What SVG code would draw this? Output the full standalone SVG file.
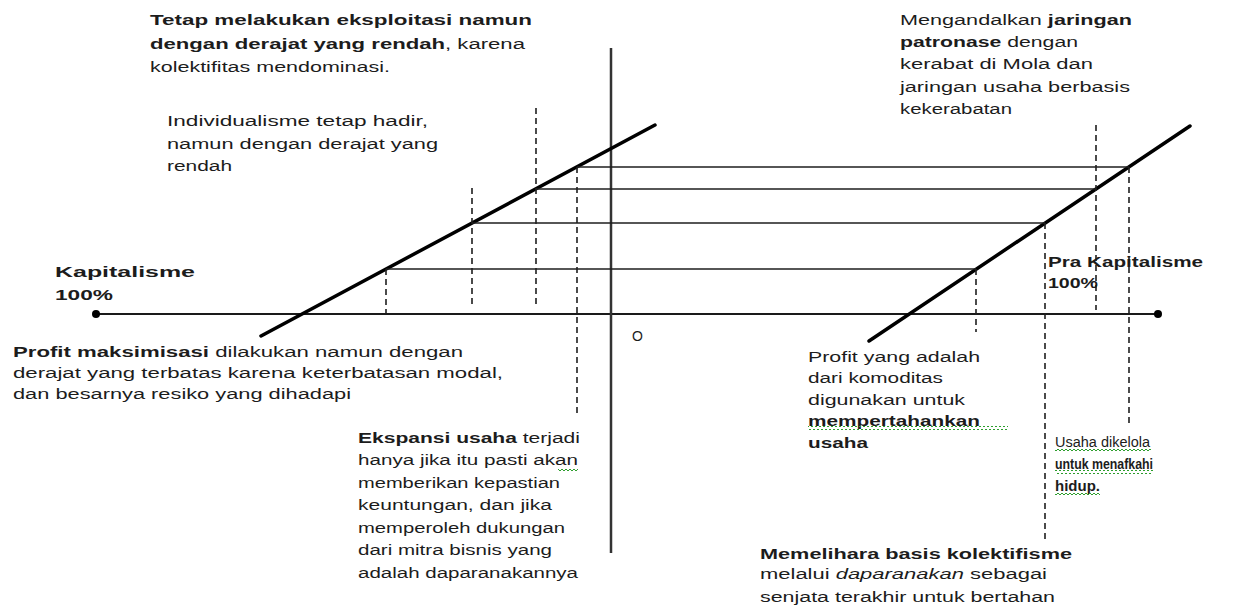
<svg xmlns="http://www.w3.org/2000/svg" width="1237" height="608" viewBox="0 0 1237 608">
<style>
text{font-family:"Liberation Sans",Arial,sans-serif;font-size:14px;fill:#1c1c1c}
.b{font-weight:bold}
.i{font-style:italic}
.big{font-size:15.5px;font-weight:bold}
.diag{stroke:#000;stroke-width:3.5;stroke-linecap:round;fill:none}
.h{stroke:#1e1e1e;stroke-width:1.6;fill:none}
.d{stroke:#1e1e1e;stroke-width:1.6;stroke-dasharray:6 4;fill:none}
.ax{stroke:#1a1a1a;stroke-width:2;fill:none}
.sq{fill:url(#squig)}
</style>
<defs>
<pattern id="squig" patternUnits="userSpaceOnUse" width="4" height="4">
<polyline points="0,3 2,1 4,3" fill="none" stroke="#2e9e2e" stroke-width="1"/>
</pattern>
</defs>
<rect width="1237" height="608" fill="#fff"/>
<g id="connectors">
<line class="ax" x1="96" y1="314" x2="1158" y2="314"/>
<circle cx="96" cy="314" r="4" fill="#000"/>
<circle cx="1158" cy="314" r="4" fill="#000"/>
<line x1="611" y1="48" x2="611" y2="553" stroke="#333" stroke-width="2.5"/>
<line class="diag" x1="261" y1="336" x2="655" y2="125"/>
<line class="diag" x1="869" y1="341" x2="1190" y2="126"/>
<line class="h" x1="577" y1="167" x2="1129" y2="167"/>
<line class="h" x1="536" y1="189" x2="1096" y2="189"/>
<line class="h" x1="472" y1="223" x2="1045" y2="223"/>
<line class="h" x1="386" y1="269" x2="976" y2="269"/>
<line class="d" x1="386" y1="269" x2="386" y2="313"/>
<line class="d" x1="472" y1="188" x2="472" y2="307"/>
<line class="d" x1="536" y1="108" x2="536" y2="307"/>
<line class="d" x1="577" y1="167" x2="577" y2="415"/>
<line class="d" x1="976" y1="269" x2="976" y2="332"/>
<line class="d" x1="1045" y1="223" x2="1045" y2="540"/>
<line class="d" x1="1096" y1="125" x2="1096" y2="310"/>
<line class="d" x1="1129" y1="167" x2="1129" y2="424"/>
</g>
<g id="node-tetap">
<text class="b" x="150" y="25" textLength="382" lengthAdjust="spacingAndGlyphs">Tetap melakukan  eksploitasi  namun</text>
<text x="150" y="49" textLength="375" lengthAdjust="spacingAndGlyphs"><tspan class="b">dengan derajat  yang  rendah</tspan>, karena</text>
<text x="150" y="72" textLength="240" lengthAdjust="spacingAndGlyphs">kolektifitas  mendominasi.</text>
</g>
<g id="node-mengandalkan">
<text x="900" y="25" textLength="232" lengthAdjust="spacingAndGlyphs">Mengandalkan  <tspan class="b">jaringan</tspan></text>
<text x="900" y="47" textLength="178" lengthAdjust="spacingAndGlyphs"><tspan class="b">patronase</tspan> dengan</text>
<text x="900" y="69" textLength="193" lengthAdjust="spacingAndGlyphs">kerabat  di Mola  dan</text>
<text x="900" y="92" textLength="230" lengthAdjust="spacingAndGlyphs">jaringan usaha  berbasis</text>
<text x="900" y="114" textLength="112" lengthAdjust="spacingAndGlyphs">kekerabatan</text>
</g>
<g id="node-individualisme">
<text x="167" y="126" textLength="261" lengthAdjust="spacingAndGlyphs">Individualisme  tetap  hadir,</text>
<text x="167" y="149" textLength="271" lengthAdjust="spacingAndGlyphs">namun  dengan  derajat  yang</text>
<text x="167" y="171" textLength="65" lengthAdjust="spacingAndGlyphs">rendah</text>
</g>
<g id="node-kapitalisme">
<text class="big" x="55" y="277" textLength="140" lengthAdjust="spacingAndGlyphs">Kapitalisme</text>
<text class="big" x="55" y="300" textLength="58" lengthAdjust="spacingAndGlyphs">100%</text>
</g>
<g id="node-prakapitalisme">
<text class="b" x="1048" y="267" font-size="13" textLength="155" lengthAdjust="spacingAndGlyphs">Pra Kapitalisme</text>
<text class="b" x="1048" y="288" font-size="13" textLength="50" lengthAdjust="spacingAndGlyphs">100%</text>
</g>
<g id="node-origin">
<text x="632" y="341" font-size="13">O</text>
</g>
<g id="node-profit-maks">
<text x="13" y="357" textLength="450" lengthAdjust="spacingAndGlyphs"><tspan class="b">Profit maksimisasi</tspan>  dilakukan  namun  dengan</text>
<text x="13" y="378" textLength="490" lengthAdjust="spacingAndGlyphs">derajat yang terbatas  karena  keterbatasan  modal,</text>
<text x="13" y="399" textLength="338" lengthAdjust="spacingAndGlyphs">dan besarnya  resiko yang  dihadapi</text>
</g>
<g id="node-ekspansi">
<text x="358" y="443" textLength="222" lengthAdjust="spacingAndGlyphs"><tspan class="b">Ekspansi  usaha</tspan>  terjadi</text>
<text x="358" y="465" textLength="220" lengthAdjust="spacingAndGlyphs">hanya jika itu pasti  akan</text>
<text x="358" y="488" textLength="202" lengthAdjust="spacingAndGlyphs">memberikan  kepastian</text>
<text x="358" y="510" textLength="194" lengthAdjust="spacingAndGlyphs">keuntungan,  dan  jika</text>
<text x="358" y="533" textLength="207" lengthAdjust="spacingAndGlyphs">memperoleh  dukungan</text>
<text x="358" y="555" textLength="194" lengthAdjust="spacingAndGlyphs">dari mitra bisnis  yang</text>
<text x="358" y="578" textLength="220" lengthAdjust="spacingAndGlyphs">adalah  daparanakannya</text>
<rect class="sq" x="558" y="467" width="20" height="4"/>
</g>
<g id="node-profit-komoditas">
<text x="808" y="362" textLength="172" lengthAdjust="spacingAndGlyphs">Profit yang  adalah</text>
<text x="808" y="383" textLength="135" lengthAdjust="spacingAndGlyphs">dari komoditas</text>
<text x="808" y="405" textLength="157" lengthAdjust="spacingAndGlyphs">digunakan  untuk</text>
<text class="b" x="808" y="426" textLength="172" lengthAdjust="spacingAndGlyphs">mempertahankan</text>
<text class="b" x="808" y="448" textLength="60" lengthAdjust="spacingAndGlyphs">usaha</text>
<rect class="sq" x="808" y="426" width="200" height="4"/>
</g>
<g id="node-usaha">
<text x="1055" y="447" textLength="95" lengthAdjust="spacingAndGlyphs">Usaha  dikelola</text>
<text class="b" x="1055" y="469" textLength="98" lengthAdjust="spacingAndGlyphs">untuk menafkahi</text>
<text class="b" x="1055" y="491" textLength="45" lengthAdjust="spacingAndGlyphs">hidup.</text>
<rect class="sq" x="1055" y="448" width="96" height="4"/>
<rect class="sq" x="1055" y="470" width="98" height="4"/>
<rect class="sq" x="1055" y="492" width="45" height="4"/>
</g>
<g id="node-memelihara">
<text class="b" x="760" y="559" textLength="312" lengthAdjust="spacingAndGlyphs">Memelihara  basis  kolektifisme</text>
<text x="760" y="579" textLength="287" lengthAdjust="spacingAndGlyphs">melalui <tspan class="i">daparanakan</tspan>  sebagai</text>
<text x="760" y="602" textLength="295" lengthAdjust="spacingAndGlyphs">senjata  terakhir  untuk  bertahan</text>
</g>
</svg>
